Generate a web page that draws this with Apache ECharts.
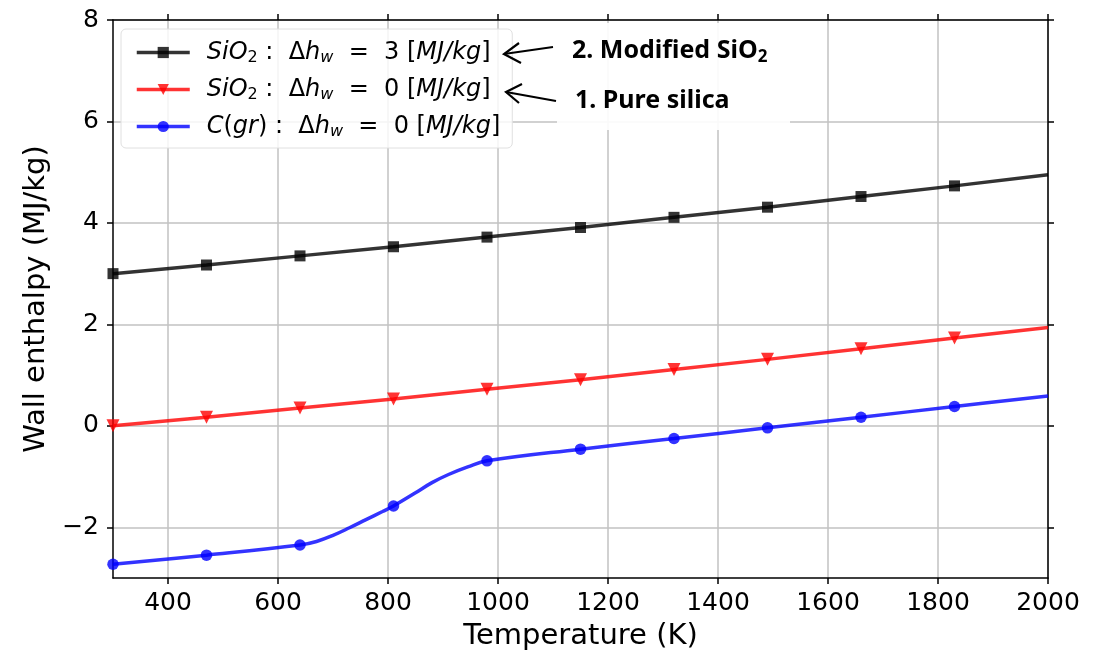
<!DOCTYPE html>
<html>
<head>
<meta charset="utf-8">
<script src="https://cdn.jsdelivr.net/npm/echarts@6/dist/echarts.min.js"></script>
<style>
html,body{margin:0;padding:0;background:#fff;}
#chart{width:1109px;height:656px;}
</style>
</head>
<body>
<div id="chart"></div>
<script>
// ---- data ----
const markerTemps = [300, 470, 640, 810, 980, 1150, 1320, 1490, 1660, 1830];
const lineTemps   = [300, 470, 640, 810, 980, 1150, 1320, 1490, 1660, 1830, 2000];
const modifiedSiO2 = [3.00, 3.17, 3.35, 3.53, 3.72, 3.91, 4.11, 4.31, 4.52, 4.73, 4.95];
const pureSiO2     = [0.00, 0.17, 0.35, 0.53, 0.72, 0.91, 1.11, 1.31, 1.52, 1.73, 1.94];
const carbonTemps  = [300, 470, 640, 670, 700, 730, 760, 790, 810, 850, 880, 910, 945, 980, 1150, 1320, 1490, 1660, 1830, 2000];
const carbonVals   = [-2.73, -2.55, -2.35, -2.28, -2.16, -2.01, -1.85, -1.69, -1.58, -1.32, -1.12, -0.96, -0.81, -0.69, -0.46, -0.25, -0.04, 0.17, 0.38, 0.59];
const xTicks = [400, 600, 800, 1000, 1200, 1400, 1600, 1800, 2000];
const yTicks = [-2, 0, 2, 4, 6, 8];
const seriesNames = ['SiO2 dh=3', 'SiO2 dh=0', 'C(gr) dh=0'];
const legendLabels = {
  'SiO2 dh=3': '{i0|SiO}{n2|2}{n| :  Δ}{i|h}{s|w}{n|  =  3 [}{i|MJ/kg}{n|]}',
  'SiO2 dh=0': '{i0|SiO}{n2|2}{n| :  Δ}{i|h}{s|w}{n|  =  0 [}{i|MJ/kg}{n|]}',
  'C(gr) dh=0': '{i0|C}{n|(}{i|gr}{n|) :  Δ}{i|h}{s|w}{n|  =  0 [}{i|MJ/kg}{n|]}'
};
const annoMain = ['2. Modified SiO', '1. Pure silica'];
const annoSub = ['2', ''];

function buildData(xs, ys) {
  return xs.map((x, i) => {
    const item = { value: [x, ys[i]] };
    if (markerTemps.indexOf(x) < 0) item.symbol = 'none';
    return item;
  });
}
const fmt = v => String(v).replace('-', '\u2212');

const chart = echarts.init(document.getElementById('chart'), null, { renderer: 'canvas' });
const gridColor = '#c2c2c2';
const FONT = 'DejaVu Sans';
const tickStyle = { color: '#000', width: 1.5 };
const axisLineStyle = { show: true, onZero: false, lineStyle: { color: '#000', width: 1.5 } };
const LH = 28;
const richSub = {
  i0: { fontFamily: FONT, fontStyle: 'italic', fontSize: 24, color: '#000', lineHeight: LH, padding: [0, 0, 0, 12] },
  i:  { fontFamily: FONT, fontStyle: 'italic', fontSize: 24, color: '#000', lineHeight: LH },
  n:  { fontFamily: FONT, fontSize: 24, color: '#000', lineHeight: LH },
  s:  { fontFamily: FONT, fontStyle: 'italic', fontSize: 16, color: '#000', padding: [11, 0, 0, 0], lineHeight: LH },
  n2: { fontFamily: FONT, fontSize: 16, color: '#000', padding: [11, 0, 0, 0], lineHeight: LH }
};
const annoFont = '"Noto Sans", "Open Sans", sans-serif';

const option = {
  backgroundColor: '#fff',
  animation: false,
  grid: { left: 113, right: 61, top: 20, bottom: 78, containLabel: false },
  xAxis: [
    {
      type: 'value', min: 300, max: 2000, position: 'bottom',
      name: 'Temperature (K)', nameLocation: 'middle', nameGap: 44,
      nameTextStyle: { fontFamily: FONT, fontSize: 29, color: '#000' },
      axisLine: axisLineStyle,
      axisTick: { show: true, length: 6, customValues: xTicks, lineStyle: tickStyle },
      axisLabel: { customValues: xTicks, fontFamily: FONT, fontSize: 25, color: '#000', margin: 13, formatter: fmt },
      splitLine: { show: true, lineStyle: { color: gridColor, width: 1.5 } }
    },
    {
      type: 'value', min: 300, max: 2000, position: 'top',
      axisLine: axisLineStyle,
      axisTick: { show: true, length: 6, customValues: xTicks, lineStyle: tickStyle },
      axisLabel: { show: false, customValues: xTicks },
      splitLine: { show: false }
    }
  ],
  yAxis: [
    {
      type: 'value', min: -3, max: 8, position: 'left',
      name: 'Wall enthalpy (MJ/kg)', nameLocation: 'middle', nameGap: 54, nameRotate: 90,
      nameTextStyle: { fontFamily: FONT, fontSize: 29, color: '#000' },
      axisLine: axisLineStyle,
      axisTick: { show: true, length: 6, customValues: yTicks, lineStyle: tickStyle },
      axisLabel: { customValues: yTicks, fontFamily: FONT, fontSize: 25, color: '#000', margin: 14, formatter: fmt },
      splitLine: { show: true, lineStyle: { color: gridColor, width: 1.5 } }
    },
    {
      type: 'value', min: -3, max: 8, position: 'right',
      axisLine: axisLineStyle,
      axisTick: { show: true, length: 6, customValues: yTicks, lineStyle: tickStyle },
      axisLabel: { show: false, customValues: yTicks },
      splitLine: { show: false }
    }
  ],
  legend: {
    left: 121, top: 29, orient: 'vertical',
    data: seriesNames,
    itemWidth: 53, itemHeight: 14, itemGap: 10,
    backgroundColor: 'rgba(255,255,255,0.82)',
    borderColor: '#e0e0e0', borderWidth: 1, borderRadius: 5,
    padding: [10, 12, 8, 14],
    lineStyle: { width: 3.5 },
    formatter: name => legendLabels[name],
    textStyle: { fontFamily: FONT, fontSize: 24, color: '#000', rich: richSub }
  },
  series: [
    {
      name: seriesNames[0], type: 'line', data: buildData(lineTemps, modifiedSiO2),
      symbol: 'rect', symbolSize: 11, showAllSymbol: true, clip: false,
      lineStyle: { color: 'rgba(0,0,0,0.8)', width: 3.5 },
      itemStyle: { color: 'rgba(0,0,0,0.8)' }, z: 3
    },
    {
      name: seriesNames[1], type: 'line', data: buildData(lineTemps, pureSiO2),
      symbol: 'triangle', symbolRotate: 180, symbolSize: 13, showAllSymbol: true, clip: false,
      lineStyle: { color: 'rgba(255,0,0,0.8)', width: 3.5 },
      itemStyle: { color: 'rgba(255,0,0,0.8)' }, z: 4
    },
    {
      name: seriesNames[2], type: 'line', data: buildData(carbonTemps, carbonVals),
      symbol: 'circle', symbolSize: 11.5, showAllSymbol: true, smooth: 0.4, clip: false,
      lineStyle: { color: 'rgba(0,0,255,0.8)', width: 3.5 },
      itemStyle: { color: 'rgba(0,0,255,0.8)' }, z: 5
    }
  ],
  graphic: [
    { type: 'rect', shape: { x: 557, y: 23, width: 233, height: 107 }, style: { fill: 'rgba(255,255,255,0.9)' }, z: 50 },
    { type: 'text', x: 572, y: 51, z: 51,
      style: { text: '{b|' + annoMain[0] + '}{bs|' + annoSub[0] + '}', verticalAlign: 'middle',
        rich: { b: { font: 'bold 25px ' + annoFont, fill: '#000', lineHeight: 30 },
                bs: { font: 'bold 17px ' + annoFont, fill: '#000', padding: [12, 0, 0, 0], lineHeight: 30 } } } },
    { type: 'text', x: 575, y: 101, z: 51,
      style: { text: annoMain[1], font: 'bold 25px ' + annoFont, fill: '#000', verticalAlign: 'middle' } },
    // arrows
    { type: 'polyline', shape: { points: [[553, 47], [504, 54]] }, style: { stroke: '#000', lineWidth: 2.2, fill: null }, z: 51 },
    { type: 'polyline', shape: { points: [[519, 43], [504, 54], [521, 63]] }, style: { stroke: '#000', lineWidth: 2.2, fill: null }, z: 51 },
    { type: 'polyline', shape: { points: [[556, 101], [506, 92]] }, style: { stroke: '#000', lineWidth: 2.2, fill: null }, z: 51 },
    { type: 'polyline', shape: { points: [[522, 84], [506, 92], [519, 103]] }, style: { stroke: '#000', lineWidth: 2.2, fill: null }, z: 51 }
  ]
};
chart.setOption(option);
</script>
</body>
</html>
